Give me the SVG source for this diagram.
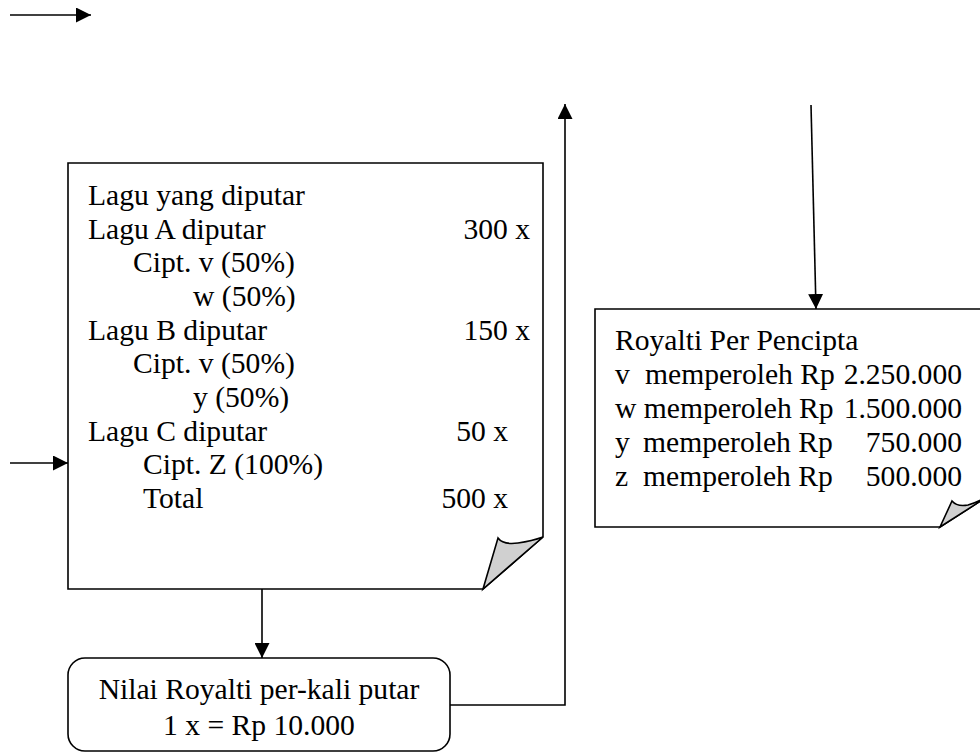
<svg xmlns="http://www.w3.org/2000/svg" width="980" height="755" viewBox="0 0 980 755">
<style>
.ln{fill:none;stroke:#000;stroke-width:1.6}
.box{fill:#fff;stroke:#000;stroke-width:1.6}
.fold{fill:#d0d0d0;stroke:#000;stroke-width:1.6;stroke-linejoin:miter}
.t{font-family:'Liberation Serif','DejaVu Serif','Times New Roman',serif;font-size:29.6px;fill:#000}
.e{text-anchor:end}
.m{text-anchor:middle}
</style>
<defs>
<marker id="ah" viewBox="0 0 10 10" refX="10" refY="5" markerWidth="15" markerHeight="15" markerUnits="userSpaceOnUse" orient="auto">
<path d="M0,0 L10,5 L0,10 Z" fill="#000"/>
</marker>
</defs>
<rect width="980" height="755" fill="#fff"/>
<g id="connectors">
<line class="ln" x1="10" y1="15" x2="91" y2="15" marker-end="url(#ah)"/>
<line class="ln" x1="10" y1="463" x2="68" y2="463" marker-end="url(#ah)"/>
<line class="ln" x1="811" y1="105" x2="816" y2="309" marker-end="url(#ah)"/>
<line class="ln" x1="262" y1="589" x2="262" y2="658" marker-end="url(#ah)"/>
<polyline class="ln" points="450,705 565,705 565,104" marker-end="url(#ah)"/>
</g>
<g id="lagu" class="t" font-family="Liberation Serif, DejaVu Serif, serif">
<path class="box" d="M68,163 H543 V537 L483,589 H68 Z"/>
<path class="fold" d="M483,589 L498,538 Q503,545 518,543 Q532,541 543,537 Z"/>
<text x="88" y="205">Lagu yang diputar</text>
<text x="88" y="239">Lagu A diputar</text>
<text class="e" x="530" y="239">300 x</text>
<text x="133" y="272">Cipt. v (50%)</text>
<text x="193" y="306">w (50%)</text>
<text x="88" y="340">Lagu B diputar</text>
<text class="e" x="530" y="340">150 x</text>
<text x="133" y="373">Cipt. v (50%)</text>
<text x="193" y="407">y (50%)</text>
<text x="88" y="441">Lagu C diputar</text>
<text class="e" x="508" y="441">50 x</text>
<text x="143" y="474">Cipt. Z (100%)</text>
<text x="143" y="508">Total</text>
<text class="e" x="508" y="508">500 x</text>
</g>
<g id="royalti" class="t" font-family="Liberation Serif, DejaVu Serif, serif">
<path class="box" d="M595,309 H990 V495 L940,527 H595 Z"/>
<path class="fold" d="M940,527 L952,501 Q957,507 968,505 Q978,502 990,495 Z"/>
<text x="615" y="350">Royalti Per Pencipta</text>
<text x="615" y="384">v</text>
<text x="645" y="384">memperoleh Rp</text>
<text class="e" x="962" y="384">2.250.000</text>
<text x="615" y="418">w memperoleh Rp</text>
<text class="e" x="962" y="418">1.500.000</text>
<text x="615" y="452">y</text>
<text x="643" y="452">memperoleh Rp</text>
<text class="e" x="962" y="452">750.000</text>
<text x="615" y="486">z</text>
<text x="643" y="486">memperoleh Rp</text>
<text class="e" x="962" y="486">500.000</text>
</g>
<g id="nilai" class="t" font-family="Liberation Serif, DejaVu Serif, serif">
<rect class="box" x="68" y="658" width="382" height="93" rx="17" ry="17"/>
<text class="m" x="259" y="699">Nilai Royalti per-kali putar</text>
<text class="m" x="259" y="735">1 x = Rp 10.000</text>
</g>
</svg>
